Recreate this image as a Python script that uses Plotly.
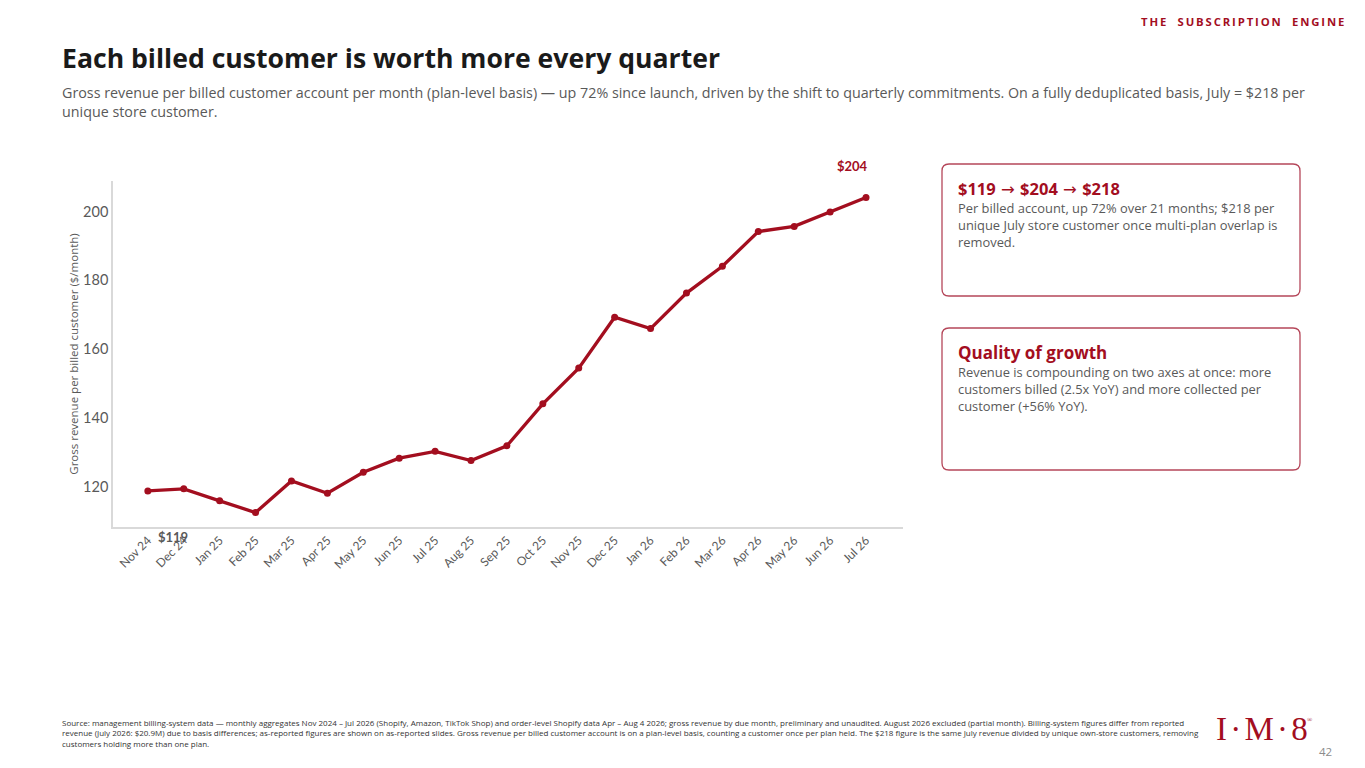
import plotly.graph_objects as go

# ページの余白(8px)を差し引いたサイズ
OFF = 8
W, H = 1365 - 2 * OFF, 768 - 2 * OFF

# データ
months = ["Nov 24", "Dec 24", "Jan 25", "Feb 25", "Mar 25", "Apr 25", "May 25",
          "Jun 25", "Jul 25", "Aug 25", "Sep 25", "Oct 25", "Nov 25", "Dec 25",
          "Jan 26", "Feb 26", "Mar 26", "Apr 26", "May 26", "Jun 26", "Jul 26"]
rev_per_customer = [118.8, 119.4, 115.9, 112.5, 121.7, 118.1, 124.2,
                    128.3, 130.3, 127.6, 131.9, 144.1, 154.5, 169.3,
                    166.0, 176.3, 184.1, 194.2, 195.7, 199.9, 204.1]
y_ticks = [120, 140, 160, 180, 200]

RED = "#a30e1f"
GREY = "#595959"
FONT = "Open Sans"


def px(x):
    return (x - OFF) / W


def py(y):
    return 1 - (y - OFF) / H


def rounded_box(x0, y0, x1, y1, r=7):
    # 角丸の枠（ピクセル座標 -> paper座標）
    pts = [
        f"M {px(x0 + r)},{py(y0)}",
        f"L {px(x1 - r)},{py(y0)}",
        f"Q {px(x1)},{py(y0)} {px(x1)},{py(y0 + r)}",
        f"L {px(x1)},{py(y1 - r)}",
        f"Q {px(x1)},{py(y1)} {px(x1 - r)},{py(y1)}",
        f"L {px(x0 + r)},{py(y1)}",
        f"Q {px(x0)},{py(y1)} {px(x0)},{py(y1 - r)}",
        f"L {px(x0)},{py(y0 + r)}",
        f"Q {px(x0)},{py(y0)} {px(x0 + r)},{py(y0)}",
        "Z",
    ]
    return dict(type="path", xref="paper", yref="paper", path=" ".join(pts),
                line=dict(color="#b5475a", width=1.3), fillcolor="rgba(0,0,0,0)")


def text(x, y, s, size, color, bold=False, family=FONT, xanchor="left", yanchor="top"):
    if bold:
        s = f"<b>{s}</b>"
    return dict(xref="paper", yref="paper", x=px(x), y=py(y), text=s, showarrow=False,
                xanchor=xanchor, yanchor=yanchor, align="left",
                font=dict(family=family, size=size, color=color))


fig = go.Figure()

fig.add_trace(go.Scatter(
    x=months, y=rev_per_customer, mode="lines+markers",
    line=dict(color=RED, width=3.3),
    marker=dict(color=RED, size=7),
    hoverinfo="x+y", showlegend=False,
))

header = "\u2003".join("\u2009".join(w) for w in ["THE", "SUBSCRIPTION", "ENGINE"])
arrow = "<span style='font-family:DejaVu Sans;font-weight:normal'> \u2192 </span>"
gap = "<span style='font-size:13px'> </span>"
logo = gap.join(["I", "\u00b7", "M", "\u00b7", "8"])

annotations = [
    # ヘッダー
    text(1346, 12, header, 11.3, RED, bold=True, xanchor="right"),
    text(60, 38, "Each billed customer is worth more every quarter", 26.6, "#1a1a1a", bold=True),
    text(60, 81, "Gross revenue per billed customer account per month (plan-level basis) \u2014 up 72% since launch, "
                 "driven by the shift to quarterly commitments. On a fully deduplicated basis, July = $218 per"
                 "<br>unique store customer.", 14.3, GREY),
    # 右側のボックス
    text(956, 175, arrow.join(["$119", "$204", "$218"]), 16.5, RED, bold=True),
    text(956, 197, "Per billed account, up 72% over 21 months; $218 per<br>"
                   "unique July store customer once multi-plan overlap is<br>removed.", 12.9, GREY),
    text(956, 339, "Quality of growth", 17, RED, bold=True),
    text(956, 361, "Revenue is compounding on two axes at once: more<br>"
                   "customers billed (2.5x YoY) and more collected per<br>customer (+56% YoY).", 12.9, GREY),
    # フッター
    text(60, 715, "Source: management billing-system data \u2014 monthly aggregates Nov 2024 \u2013 Jul 2026 (Shopify, Amazon, TikTok Shop) "
                  "and order-level Shopify data Apr \u2013 Aug 4 2026; gross revenue by due month, preliminary and unaudited. "
                  "August 2026 excluded (partial month). Billing-system figures differ from reported<br>"
                  "revenue (July 2026: $20.9M) due to basis differences; as-reported figures are shown on as-reported slides. "
                  "Gross revenue per billed customer account is on a plan-level basis, counting a customer once per plan held. "
                  "The $218 figure is the same July revenue divided by unique own-store customers, removing<br>"
                  "customers holding more than one plan.", 8.0, "#333333"),
    text(1214, 709, logo, 33, RED, family="Liberation Serif"),
    text(1305, 714, "\u00ae", 7, RED, family="Liberation Serif"),
    text(1334, 742, "42", 11.5, "#8c8c8c", xanchor="right"),
    # データラベル
    dict(x=months[0], y=rev_per_customer[0], xref="x", yref="y", text="<b>$119</b>",
         showarrow=False, xshift=25, yshift=-46, font=dict(family="Lato", size=13, color=GREY)),
    dict(x=months[-1], y=rev_per_customer[-1], xref="x", yref="y", text="<b>$204</b>",
         showarrow=False, xshift=-14, yshift=32, font=dict(family="Lato", size=13, color=RED)),
]

fig.update_layout(
    width=W, height=H,
    margin=dict(l=0, r=0, t=0, b=0),
    paper_bgcolor="white", plot_bgcolor="white",
    font=dict(family=FONT),
    showlegend=False,
    shapes=[rounded_box(942, 164, 1300, 296), rounded_box(942, 328, 1300, 470)],
    annotations=annotations,
    xaxis=dict(
        domain=[px(113), px(903)],
        type="category", range=[-0.97, 21.03],
        showgrid=False, zeroline=False,
        showline=True, linecolor="#d9d9d9", linewidth=1.5,
        ticks="", tickangle=-45,
        tickfont=dict(family="Lato", size=12, color=GREY),
    ),
    yaxis=dict(
        domain=[py(527), py(181)],
        range=[108.3, 208.9], tickvals=y_ticks,
        showgrid=False, zeroline=False,
        showline=True, linecolor="#d9d9d9", linewidth=1.5,
        ticks="", tickfont=dict(family="Lato", size=14.5, color=GREY),
        title=dict(text="Gross revenue per billed customer ($/month)", standoff=2,
                   font=dict(family=FONT, size=11.5, color=GREY)),
    ),
)

fig.write_html("out.html")
